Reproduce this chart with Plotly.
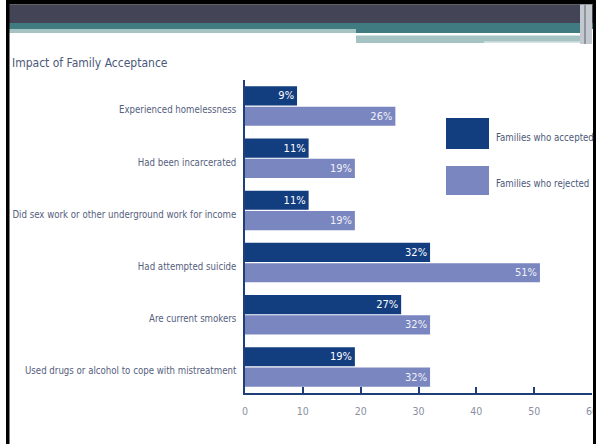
import plotly.graph_objects as go

# ---- data ----
categories = [
    "Experienced homelessness",
    "Had been incarcerated",
    "Did sex work or other underground work for income",
    "Had attempted suicide",
    "Are current smokers",
    "Used drugs or alcohol to cope with mistreatment",
]
series_names = ["Families who accepted", "Families who rejected"]
accepted = [9, 11, 11, 32, 27, 19]
rejected = [26, 19, 19, 51, 32, 32]
x_ticks = [0, 10, 20, 30, 40, 50, 60]
title_text = "Impact of Family Acceptance"

# ---- style ----
W, H = 596, 444
L, R, T, B = 245, 4, 80, 51
PW, PH = W - L - R, H - T - B
DARK = "#123d7f"
LIGHT = "#7a86bf"
NAVY_AXIS = "#1e3f78"
FONT = "DejaVu Sans Condensed, Liberation Sans Narrow, Arial Narrow, sans-serif"


def px(x):
    return (x - L) / PW


def py(y):
    return (H - B - y) / PH


def rect(x0, y0, x1, y1, color):
    return dict(type="rect", xref="paper", yref="paper",
                x0=px(x0), x1=px(x1), y0=py(y1), y1=py(y0),
                fillcolor=color, line=dict(width=0), layer="above")


fig = go.Figure()
for name, vals, col, tcol in [
    (series_names[0], accepted, DARK, "#ffffff"),
    (series_names[1], rejected, LIGHT, "#f0f2fa"),
]:
    fig.add_trace(go.Bar(
        y=categories, x=vals, name=name, orientation="h",
        marker=dict(color=col, line=dict(width=0)),
        text=[f"{v}%" for v in vals], textposition="inside",
        insidetextanchor="end", textangle=0,
        textfont=dict(family=FONT, size=11, color=tcol),
        cliponaxis=False, hoverinfo="skip",
    ))

shapes = [
    # header decorations
    rect(6, 0, 596, 4.5, "#000000"),
    rect(9, 4.5, 593, 23, "#444457"),
    rect(9, 23, 593, 29, "#3f7b80"),
    rect(356, 29, 580, 33, "#3f7b80"),
    rect(9, 29, 356, 33, "#a6c3c4"),
    rect(356, 33, 580, 35.5, "#ffffff"),
    rect(356, 35.5, 580, 43, "#a6c3c4"),
    rect(484, 41.5, 590, 42.8, "#e6eeee"),
    rect(580, 4.5, 592, 44, "#c4c9cf"),
    rect(584, 4.5, 586, 44, "#8f96a0"),
    # borders
    rect(6, 0, 9.5, 444, "#000000"),
    rect(593, 0, 596, 444, "#000000"),
    # legend swatches
    rect(446, 118, 489, 149, DARK),
    rect(446, 166, 489, 195, LIGHT),
]

annotations = [
    dict(text=title_text, xref="paper", yref="paper", x=px(10), y=py(63),
         xanchor="left", yanchor="middle", showarrow=False,
         font=dict(family=FONT, size=12, color="#4b5878")),
    dict(text=series_names[0], xref="paper", yref="paper", x=px(494), y=py(137),
         xanchor="left", yanchor="middle", showarrow=False,
         font=dict(family=FONT, size=9.6, color="#4b5878")),
    dict(text=series_names[1], xref="paper", yref="paper", x=px(494), y=py(183),
         xanchor="left", yanchor="middle", showarrow=False,
         font=dict(family=FONT, size=9.6, color="#4b5878")),
]

fig.update_layout(
    width=W, height=H,
    margin=dict(l=L, r=R, t=T, b=B, pad=0, autoexpand=False),
    paper_bgcolor="#ffffff", plot_bgcolor="#ffffff",
    barmode="group", bargap=0.22, bargroupgap=0.06,
    showlegend=False,
    shapes=shapes, annotations=annotations,
    xaxis=dict(range=[0, 60], tickvals=x_ticks, ticktext=[str(v) for v in x_ticks],
               automargin=False, ticklabeloverflow="allow",
               showgrid=False, zeroline=False, showline=True, linecolor=NAVY_AXIS,
               linewidth=2, ticks="inside", ticklen=6, tickwidth=1.5,
               tickcolor=NAVY_AXIS, ticklabelstandoff=7,
               tickfont=dict(family=FONT, size=10.5, color="#8a8fa2")),
    yaxis=dict(autorange="reversed", showgrid=False, zeroline=False,
               automargin=False,
               showline=True, linecolor=NAVY_AXIS, linewidth=1.5,
               ticks="", ticklabelstandoff=5, ticklabelshift=-4,
               tickfont=dict(family=FONT, size=9.6, color="#55607e")),
)

fig.write_html(
    "out.html",
    config={"displayModeBar": False},
    post_script="document.body.style.margin='0';document.body.style.overflow='hidden';",
)
